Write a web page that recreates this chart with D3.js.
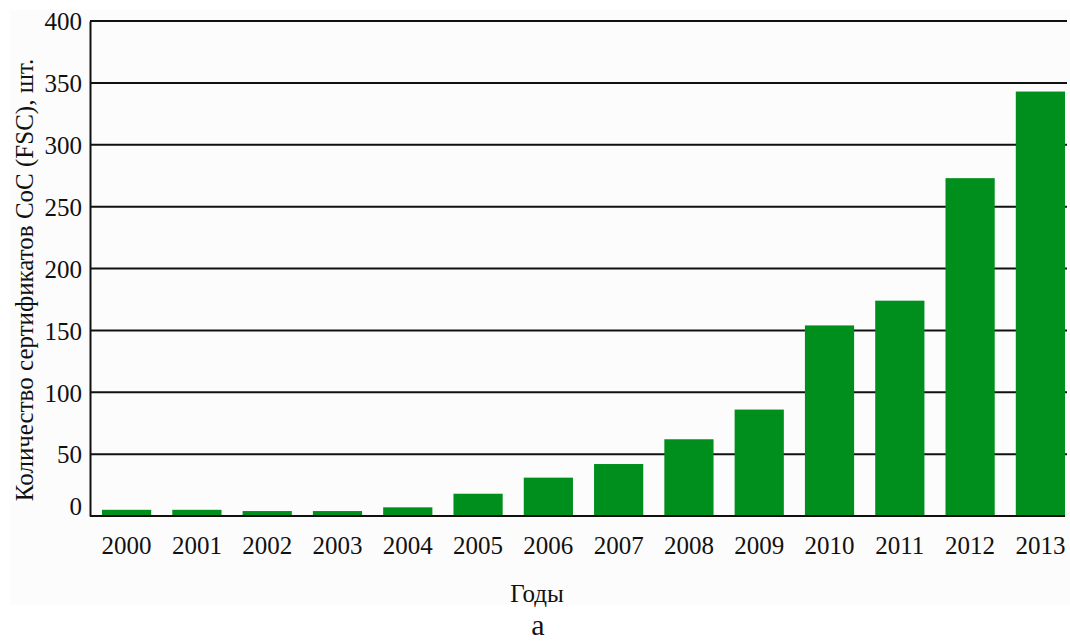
<!DOCTYPE html>
<html lang="ru">
<head>
  <meta charset="utf-8">
  <script src="https://d3js.org/d3.v7.min.js"></script>
  <style>
    body { margin: 0; background: #fff; }
    svg text { font-family: 'Liberation Serif', 'DejaVu Serif', serif; fill: #111; }
    .grid line { stroke: #111; stroke-width: 2; }
  </style>
</head>
<body>
  <svg id="chart" width="1070" height="643"></svg>
  <script>
    // data
    const years = ["2000", "2001", "2002", "2003", "2004", "2005", "2006",
                   "2007", "2008", "2009", "2010", "2011", "2012", "2013"];
    const counts = [5, 5, 4, 4, 7, 18, 31, 42, 62, 86, 154, 174, 273, 343];
    const yTicks = [0, 50, 100, 150, 200, 250, 300, 350, 400];

    const svg = d3.select("#chart");

    // light backdrop of the scanned figure
    svg.append("rect")
       .attr("x", 10).attr("y", 10)
       .attr("width", 1060).attr("height", 595)
       .attr("fill", "#fcfcfc");

    const x = d3.scaleBand().domain(years).range([102, 1065])
                .paddingInner(0.3).paddingOuter(0);
    const y = d3.scaleLinear().domain([0, 400]).range([516, 21]);
    const left = 90, right = 1067;

    // gridlines
    svg.append("g").attr("class", "grid")
       .selectAll("line")
       .data(yTicks.filter(d => d > 0))
       .join("line")
       .attr("x1", left).attr("x2", right)
       .attr("y1", d => y(d)).attr("y2", d => y(d));

    // bars
    svg.append("g")
       .selectAll("rect")
       .data(counts)
       .join("rect")
       .attr("x", (d, i) => x(years[i]))
       .attr("y", d => y(d))
       .attr("width", x.bandwidth())
       .attr("height", d => y(0) - y(d))
       .attr("fill", "#008e1c");

    // axes
    const yAxis = svg.append("g")
       .attr("transform", `translate(${left},0)`)
       .call(d3.axisLeft(y).tickValues(yTicks).tickSize(0).tickPadding(8));
    yAxis.select(".domain").attr("stroke", "#111").attr("stroke-width", 2);
    yAxis.selectAll("text")
         .attr("font-size", 25)
         .attr("dy", d => d === 0 ? "-0.05em" : "0.35em");

    const xAxis = svg.append("g")
       .attr("transform", `translate(0,${y(0)})`)
       .call(d3.axisBottom(x).tickSize(0).tickPadding(20));
    xAxis.select(".domain").remove();
    xAxis.selectAll("text").attr("font-size", 25);
    svg.append("line")
       .attr("x1", left).attr("x2", 1065)
       .attr("y1", y(0)).attr("y2", y(0))
       .attr("stroke", "#111").attr("stroke-width", 2);

    // titles
    svg.append("text")
       .attr("transform", "translate(33,280) rotate(-90)")
       .attr("text-anchor", "middle")
       .attr("font-size", 25)
       .text("Количество сертификатов CoC (FSC), шт.");

    svg.append("text")
       .attr("x", 537).attr("y", 602)
       .attr("text-anchor", "middle")
       .attr("font-size", 25)
       .text("Годы");

    svg.append("text")
       .attr("x", 538).attr("y", 635)
       .attr("text-anchor", "middle")
       .attr("font-size", 30)
       .text("а");
  </script>
</body>
</html>
